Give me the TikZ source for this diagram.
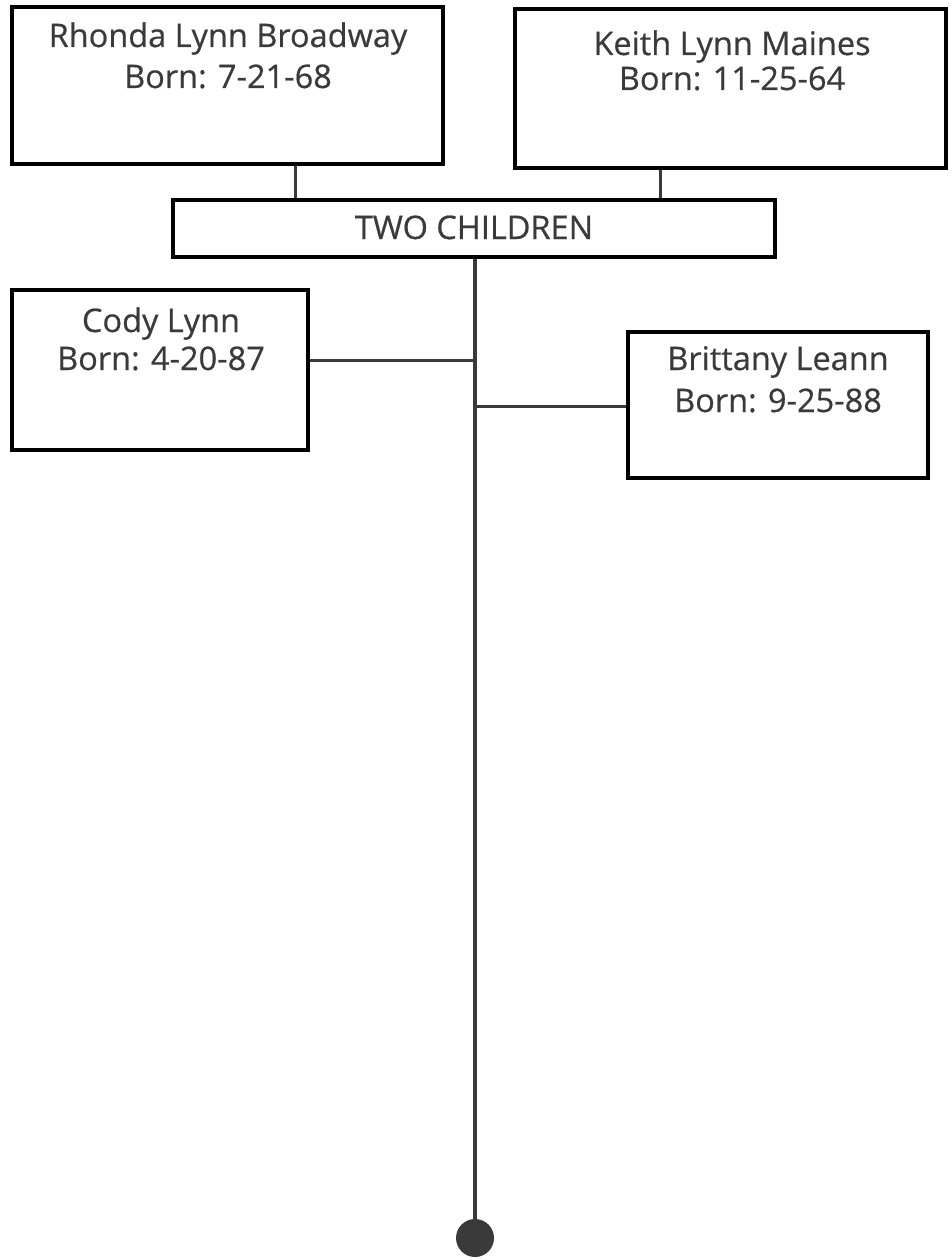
\documentclass[tikz,border=0pt]{standalone}
\usepackage{fontspec}
\newfontfamily\labelfont{Open Sans}[FakeBold=0.5]
\definecolor{ink}{HTML}{3A3A3A}
\definecolor{wire}{HTML}{3A3A3A}
\begin{document}
\begin{tikzpicture}[x=1pt,y=-1pt,
  frame/.style={draw=black, line width=4pt, inner sep=0pt, minimum width=#1},
  label/.style={text=ink, inner sep=0pt, anchor=base,
    font=\labelfont\fontsize{32.5}{40}\selectfont},
  link/.style={draw=wire, line width=3pt},
  trunk/.style={draw=wire, line width=4pt}]
\useasboundingbox (0,0) rectangle (951,1260);

% parents
\node[frame=431, minimum height=157] (rhonda) at (227.5,85.5) {};
\node[frame=431, minimum height=159] (keith) at (730.5,88.5) {};
% joint box
\node[frame=602, minimum height=57] (kids) at (474,228.5) {};
% children
\node[frame=296, minimum height=160] (cody) at (160,370) {};
\node[frame=300, minimum height=146] (britt) at (778,405) {};
% end of the line
\node[circle, fill=wire, inner sep=0pt, minimum size=38] (stop) at (475,1238) {};

% texts, one node per line, placed on their baselines
\node[label] (rhondaname) at (228,47) {Rhonda Lynn Broadway};
\node[label] (rhondaborn) at (228,88) {Born: 7-21-68};
\node[label] (keithname) at (732,55) {Keith Lynn Maines};
\node[label] (keithborn) at (732,90) {Born: 11-25-64};
\node[label] (kidsname) at (474,239) {TWO CHILDREN};
\node[label] (codyname) at (161,332) {Cody Lynn};
\node[label] (codyborn) at (161,370) {Born: 4-20-87};
\node[label] (brittname) at (778,370) {Brittany Leann};
\node[label] (brittborn) at (778,412) {Born: 9-25-88};

% connectors
\draw[link] (rhonda.south) ++(67.5,0) coordinate (ra) -- (ra |- kids.north);
\draw[link] (keith.south) ++(-70.5,0) coordinate (ka) -- (ka |- kids.north);
\draw[trunk] (kids.south -| stop.north) -- (stop.north);
\draw[link] (cody.east) ++(0,-10) coordinate (ca) -- (ca -| stop.north);
\draw[link] (britt.west) ++(0,1) coordinate (ba) -- (ba -| stop.north);
\end{tikzpicture}
\end{document}
